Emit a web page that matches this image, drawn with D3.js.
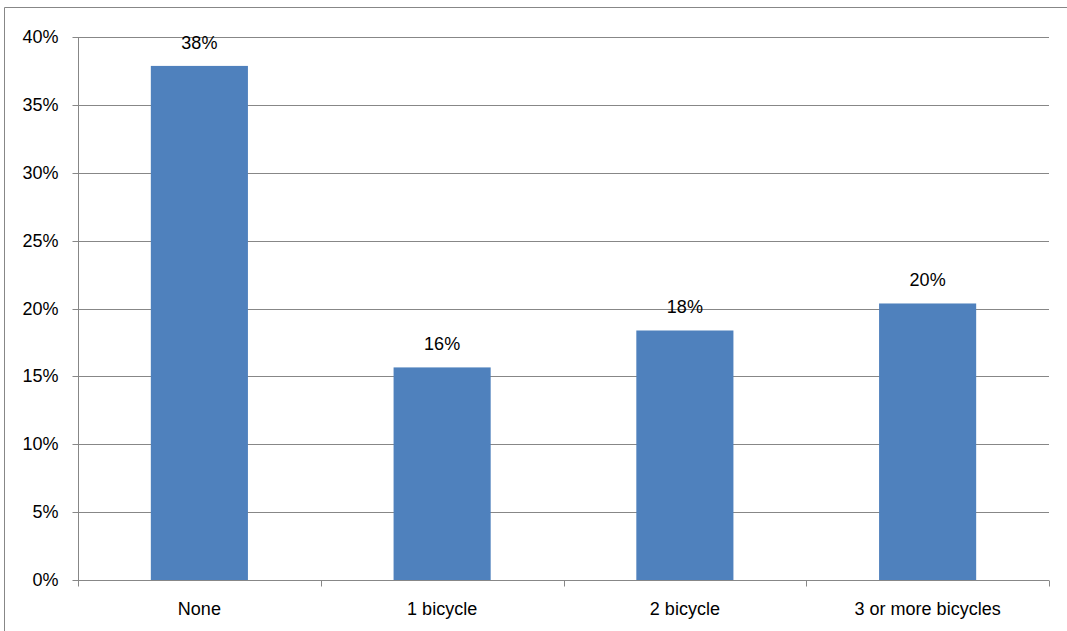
<!DOCTYPE html>
<html><head><meta charset="utf-8">
<script src="https://cdn.jsdelivr.net/npm/d3@7"></script>
<style>body{margin:0;background:#fff}svg{display:block}</style>
</head><body><svg id="c" width="1067" height="631"></svg>
<script>
const categories = ["None", "1 bicycle", "2 bicycle", "3 or more bicycles"];
const values = [0.3787, 0.1566, 0.1838, 0.2037];
const labels = ["38%", "16%", "18%", "20%"];
const yTicks = [0, 0.05, 0.10, 0.15, 0.20, 0.25, 0.30, 0.35, 0.40];

const svg = d3.select("#c");
const font = "'Liberation Sans', Arial, sans-serif";
const fs = 18;
const L = 78, R = 1049, T = 37, B = 580;

// outer border
svg.append("path").attr("d", `M4.5,640 V7.5 H1080`).attr("fill","none").attr("stroke","#878787").attr("stroke-width",1);

const x = d3.scaleBand().domain(categories).range([L, R]).paddingInner(0.6).paddingOuter(0.3);
const xb = d3.scaleBand().domain(categories).range([L, R]);
const y = d3.scaleLinear().domain([0, 0.4]).range([B, T]);

// gridlines
svg.append("g").selectAll("line").data(yTicks.filter(d=>d>0)).join("line")
  .attr("x1", L).attr("x2", R).attr("y1", d=>Math.round(y(d))+0.5).attr("y2", d=>Math.round(y(d))+0.5)
  .attr("stroke", "#878787").attr("stroke-width", 1);

// bars
svg.append("g").selectAll("rect").data(values).join("rect")
  .attr("x", (d,i)=>x(categories[i])).attr("width", x.bandwidth())
  .attr("y", d=>y(d)).attr("height", d=>B - y(d)).attr("fill", "#4F81BD");

// y axis
const ya = svg.append("g").attr("transform", `translate(${L+0.5},0)`)
  .call(d3.axisLeft(y).tickValues(yTicks).tickFormat(d3.format(".0%")).tickSize(6).tickPadding(14));
ya.select(".domain").attr("stroke","#878787").attr("d", `M0,${T} V${B}`);
ya.selectAll(".tick line").attr("stroke","#878787");
ya.selectAll(".tick").attr("transform", d=>`translate(0,${Math.round(y(d))+0.5})`);
ya.selectAll("text").attr("font-family", font).attr("font-size", fs).attr("fill","#000");

// x axis
const xa = svg.append("g").attr("transform", `translate(0,${B+0.5})`);
xa.append("line").attr("x1", L).attr("x2", R).attr("stroke","#878787");
const bounds = categories.map(c=>xb(c)).concat([R]);
xa.selectAll("line.tk").data(bounds).join("line").attr("class","tk")
  .attr("x1", d=>Math.round(d)+0.5).attr("x2", d=>Math.round(d)+0.5).attr("y1",0).attr("y2",6).attr("stroke","#878787");
xa.selectAll("text").data(categories).join("text")
  .attr("x", d=>xb(d)+xb.bandwidth()/2).attr("y", 34).attr("text-anchor","middle")
  .attr("font-family", font).attr("font-size", fs).attr("fill","#000").text(d=>d);

// data labels
svg.append("g").selectAll("text").data(values).join("text")
  .attr("x", (d,i)=>x(categories[i]) + x.bandwidth()/2).attr("y", d=>y(d)-17)
  .attr("text-anchor","middle").attr("font-family", font).attr("font-size", fs).attr("fill","#000")
  .text((d,i)=>labels[i]);
</script></body></html>
